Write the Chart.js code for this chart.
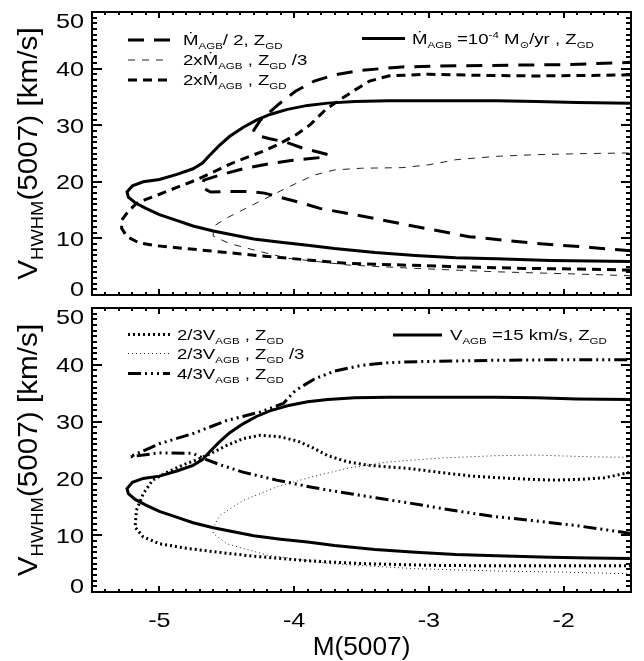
<!DOCTYPE html>
<html>
<head>
<meta charset="utf-8">
<script src="https://cdn.jsdelivr.net/npm/chart.js@4.4.1/dist/chart.umd.min.js"></script>
<style>
  body { margin: 0; background: #fff; }
  #wrap { position: relative; width: 644px; height: 661px; }
  #wrap canvas { position: absolute; left: 0; }
</style>
</head>
<body>
<div id="wrap">
  <canvas id="topPanel" width="644" height="300" style="top:0"></canvas>
  <canvas id="bottomPanel" width="644" height="361" style="top:300px"></canvas>
</div>
<script>
// axis ranges and tick labels
const X_MIN = -5.5, X_MAX = -1.5, Y_MIN = 0, Y_MAX = 50;
const xTickValues = [-5, -4, -3, -2];
const xTickLabels = ['-5', '-4', '-3', '-2'];
const yTickValues = [0, 10, 20, 30, 40, 50];
const yTickLabels = ['0', '10', '20', '30', '40', '50'];

// reference model (Mdot_AGB = 1e-4, V_AGB = 15 km/s, Z_GD) - shown in both panels
const refX = [-1.5, -1.8, -2.1, -2.5, -2.8, -3.1, -3.4, -3.7, -3.9, -4.1, -4.3, -4.45, -4.6, -4.75, -4.9, -5.0, -5.1, -5.18, -5.23, -5.24,
              -5.2, -5.12, -5.0, -4.87, -4.75, -4.68, -4.63, -4.56, -4.48, -4.38, -4.28, -4.18, -4.05, -3.9, -3.75, -3.55, -3.3, -3.0, -2.5, -2.2, -1.9, -1.5];
const refY = [5.9, 6.0, 6.1, 6.4, 6.6, 7.0, 7.5, 8.2, 8.8, 9.3, 9.9, 10.6, 11.3, 12.2, 13.4, 14.2, 15.3, 16.3, 17.3, 18.2,
              19.3, 20.0, 20.4, 21.3, 22.3, 23.3, 24.6, 26.3, 28.0, 29.6, 30.9, 31.9, 32.8, 33.5, 33.9, 34.2, 34.3, 34.3, 34.3, 34.2, 34.0, 33.9];

// top panel: mass-loss variations
const mdotHalfX = [-1.5, -1.8, -2.2, -2.7, -3.1, -3.4, -3.6, -3.81, -3.95, -4.11, -4.22, -4.35, -4.5, -4.62, -4.69, -4.67, -4.55, -4.38, -4.18, -4.01,
                   -3.88, -3.76, -3.75, -3.83, -3.93, -4.06, -4.18, -4.28, -4.30, -4.25, -4.11, -3.99, -3.85, -3.7, -3.5, -3.2, -2.8, -2.4, -2.0, -1.5];
const mdotHalfY = [7.8, 8.4, 9.1, 10.3, 12.1, 13.5, 14.4, 15.3, 16.3, 17.3, 18.0, 18.3, 18.3, 18.2, 19.1, 20.3, 21.2, 22.3, 23.2, 23.8,
                   24.1, 24.4, 24.8, 25.3, 25.9, 27.0, 27.6, 28.2, 29.1, 30.9, 33.8, 36.0, 37.8, 38.9, 39.7, 40.3, 40.5, 40.6, 40.7, 41.1];

const mdot2LowZX = [-1.5, -1.9, -2.5, -3.1, -3.6, -4.05, -4.29, -4.48, -4.6, -4.6, -4.5, -4.3, -4.05, -3.85, -3.7, -3.5, -3.2, -3.0, -2.8, -2.5, -2.2, -1.8, -1.5];
const mdot2LowZY = [3.4, 3.7, 4.1, 4.7, 5.3, 6.5, 7.9, 9.1, 10.4, 12.1, 13.6, 16.0, 19.0, 21.2, 22.1, 22.4, 22.5, 23.0, 23.9, 24.5, 24.8, 25.0, 25.1];

const mdot2X = [-1.5, -1.9, -2.3, -2.8, -3.2, -3.6, -3.9, -4.2, -4.5, -4.8, -5.02, -5.15, -5.24, -5.28, -5.28, -5.23, -5.17, -5.1, -5.03, -4.87, -4.72,
                -4.55, -4.43, -4.23, -4.11, -3.98, -3.88, -3.76, -3.66, -3.55, -3.44, -3.3, -3.0, -2.6, -2.2, -1.8, -1.5];
const mdot2Y = [4.4, 4.6, 4.7, 5.0, 5.3, 5.6, 6.2, 6.8, 7.5, 8.2, 8.7, 9.2, 10.3, 11.8, 13.2, 14.8, 16.2, 16.9, 17.5, 19.0, 20.4,
                22.3, 23.6, 25.4, 26.7, 28.4, 30.1, 32.9, 34.5, 36.2, 37.8, 38.7, 39.0, 38.8, 38.7, 38.8, 38.9];

// bottom panel: wind-velocity variations
const v23X = [-1.5, -2.0, -2.5, -3.0, -3.5, -3.9, -4.3, -4.6, -4.8, -5.0, -5.12, -5.18, -5.17, -5.12, -5.05, -4.95, -4.82, -4.7, -4.6, -4.5, -4.38,
              -4.25, -4.1, -3.98, -3.87, -3.75, -3.6, -3.44, -3.13, -2.9, -2.68, -2.4, -2.1, -1.9, -1.7, -1.5];
const v23Y = [4.6, 4.6, 4.6, 4.7, 5.0, 5.5, 6.3, 7.1, 7.7, 8.5, 9.7, 11.4, 14.4, 17.3, 19.7, 21.0, 22.4, 23.5, 24.6, 25.8, 27.0,
              27.6, 27.3, 26.6, 25.5, 24.0, 22.9, 22.3, 21.7, 21.0, 20.4, 20.0, 19.7, 19.8, 20.1, 21.1];

const v23LowZX = [-1.5, -2.0, -2.5, -3.1, -3.74, -4.2, -4.38, -4.5, -4.6, -4.6, -4.55, -4.38, -4.13, -3.88, -3.6, -3.3, -2.9, -2.5, -2.2, -1.8, -1.5];
const v23LowZY = [3.2, 3.5, 3.7, 4.1, 5.0, 6.5, 7.7, 8.5, 10.3, 11.4, 13.5, 16.1, 18.5, 20.2, 21.8, 22.9, 23.6, 24.0, 24.1, 23.8, 23.7];

const v43X = [-1.5, -1.7, -1.91, -2.2, -2.52, -2.8, -3.13, -3.45, -3.74, -3.88, -4.13, -4.38, -4.55, -4.65, -4.75, -5.0, -5.22,
              -5.0, -4.75, -4.5, -4.25, -4.08, -3.99, -3.85, -3.7, -3.5, -3.29, -3.0, -2.5, -2.0, -1.5];
const v43Y = [10.3, 11.0, 11.7, 12.5, 13.3, 14.3, 15.6, 16.8, 17.9, 18.5, 19.7, 21.1, 22.4, 23.3, 24.4, 24.5, 23.8,
              26.1, 27.9, 30.2, 31.7, 33.2, 35.5, 37.5, 38.9, 39.9, 40.4, 40.6, 40.8, 40.9, 40.9];

const topLabels = ['Ṁ_{AGB}/ 2, Z_{GD}', '2xṀ_{AGB} , Z_{GD} /3', '2xṀ_{AGB} , Z_{GD}', 'Ṁ_{AGB} =10^{-4} M_{⊙}/yr , Z_{GD}'];
const bottomLabels = ['2/3V_{AGB} , Z_{GD}', '2/3V_{AGB} , Z_{GD} /3', '4/3V_{AGB} , Z_{GD}', 'V_{AGB} =15 km/s, Z_{GD}'];
const yTitle = 'V_{HWHM}(5007) [km/s]';
const xTitle = 'M(5007)';

const FONT = '"Liberation Sans", Arial, "DejaVu Sans", sans-serif';

function pts(xs, ys) {
  return xs.map((x, i) => ({ x: x, y: ys[i] }));
}

function line(label, xs, ys, width, dash, color) {
  return {
    label: label,
    data: pts(xs, ys),
    showLine: true,
    borderColor: color || '#000',
    borderWidth: width,
    borderDash: dash,
    pointRadius: 0,
    fill: false,
    tension: 0
  };
}

// "X_{sub}" / "X^{sup}" markup -> parts
function parseRich(str) {
  const parts = [];
  const re = /([_^])\{([^}]*)\}|[^_^]+/g;
  let m;
  while ((m = re.exec(str))) {
    if (m[1]) parts.push({ t: m[2], k: m[1] === '_' ? 'sub' : 'sup' });
    else parts.push({ t: m[0], k: '' });
  }
  return parts;
}

function richText(ctx, str, x, y, size, opt) {
  opt = opt || {};
  const parts = parseRich(str);
  const small = size * 0.62;
  ctx.save();
  ctx.translate(x, y);
  if (opt.rotate) ctx.rotate(opt.rotate);
  ctx.scale(opt.stretch || 1, 1);
  ctx.fillStyle = '#000';
  ctx.textAlign = 'left';
  ctx.textBaseline = 'alphabetic';
  const widths = parts.map(p => {
    ctx.font = (p.k ? small : size) + 'px ' + FONT;
    return ctx.measureText(p.t).width;
  });
  const total = widths.reduce((a, b) => a + b, 0);
  let cx = opt.align === 'center' ? -total / 2 : opt.align === 'right' ? -total : 0;
  parts.forEach((p, i) => {
    ctx.font = (p.k ? small : size) + 'px ' + FONT;
    const dy = p.k === 'sub' ? size * 0.24 : p.k === 'sup' ? -size * 0.4 : 0;
    ctx.fillText(p.t, cx, dy);
    cx += widths[i];
  });
  ctx.restore();
}

// IDL style box: inward ticks on all four sides, tick labels, titles, legend
const idlFrame = {
  id: 'idlFrame',
  afterDraw(chart) {
    const o = chart.options.plugins.idlFrame;
    const ctx = chart.ctx;
    const a = chart.chartArea;
    const xs = chart.scales.x, ys = chart.scales.y;
    ctx.save();
    ctx.fillStyle = '#000';

    // x: minor ticks every 0.1 mag, major every 1 mag
    for (let i = 0; i <= 40; i++) {
      const px = Math.round(xs.getPixelForValue(X_MIN + i / 10));
      const len = (i % 10 === 5) ? 6 : 3;
      ctx.fillRect(px - 1, a.bottom - len, 2, len);
      ctx.fillRect(px - 1, a.top, 2, len);
    }
    // y: minor ticks every 1 km/s, major every 10
    for (let i = 0; i <= 50; i++) {
      const py = Math.round(ys.getPixelForValue(Y_MIN + i));
      const len = i % 10 === 0 ? 10 : 5;
      ctx.fillRect(a.left, py - 1, len, 2);
      ctx.fillRect(a.right - len, py - 1, len, 2);
    }
    // box
    ctx.fillRect(a.left - 1, a.top - 1, a.right - a.left + 2, 2);
    ctx.fillRect(a.left - 1, a.bottom - 1, a.right - a.left + 2, 2);
    ctx.fillRect(a.left - 1, a.top - 1, 2, a.bottom - a.top + 2);
    ctx.fillRect(a.right - 1, a.top - 1, 2, a.bottom - a.top + 2);

    // y tick labels
    yTickValues.forEach((v, i) => {
      let py = ys.getPixelForValue(v) + 7.5;
      if (v === Y_MIN) py -= 7;
      if (v === Y_MAX) py += 8;
      richText(ctx, yTickLabels[i], a.left - 8, py, 21, { align: 'right', stretch: 1.2 });
    });
    // y title
    richText(ctx, yTitle, o.titleX, (a.top + a.bottom) / 2, 27,
      { align: 'center', rotate: -Math.PI / 2, stretch: 1.1 });

    if (o.showX) {
      xTickValues.forEach((v, i) => {
        richText(ctx, xTickLabels[i], xs.getPixelForValue(v), a.bottom + 34.5, 21,
          { align: 'center', stretch: 1.2 });
      });
      richText(ctx, xTitle, (a.left + a.right) / 2, a.bottom + 63, 25, { align: 'center', stretch: 1.05 });
    }

    // legend
    o.legend.forEach((row, i) => {
      const ds = chart.data.datasets[i];
      ctx.save();
      ctx.strokeStyle = ds.borderColor;
      ctx.lineWidth = ds.borderWidth;
      ctx.setLineDash(ds.borderDash || []);
      ctx.beginPath();
      ctx.moveTo(row.x0, row.y);
      ctx.lineTo(row.x1, row.y);
      ctx.stroke();
      ctx.restore();
      richText(ctx, o.labels[i], row.tx, row.y + 5.4, 15, { stretch: 1.24 });
    });
    ctx.restore();
  }
};

function makePanel(id, datasets, padding, extra) {
  return new Chart(document.getElementById(id), {
    type: 'scatter',
    data: { datasets: datasets },
    options: {
      responsive: false,
      animation: false,
      layout: { padding: padding },
      scales: {
        x: { type: 'linear', min: X_MIN, max: X_MAX, display: false },
        y: { type: 'linear', min: Y_MIN, max: Y_MAX, display: false }
      },
      plugins: {
        legend: { display: false },
        tooltip: { enabled: false },
        idlFrame: extra
      }
    },
    plugins: [idlFrame]
  });
}

const LONG_DASH = [16, 10], THIN_DASH = [7, 7], SHORT_DASH = [9, 6];
const DOTS = [2, 3], THIN_DOTS = [1, 3], DASH_3DOT = [13, 4, 2, 4, 2, 4, 2, 4];

makePanel('topPanel', [
  line(topLabels[0], mdotHalfX, mdotHalfY, 3, LONG_DASH),
  line(topLabels[1], mdot2LowZX, mdot2LowZY, 1, THIN_DASH, '#222'),
  line(topLabels[2], mdot2X, mdot2Y, 3, SHORT_DASH),
  line(topLabels[3], refX, refY, 3, [])
], { left: 92, right: 13, top: 12, bottom: 5 }, {
  titleX: 37,
  showX: false,
  labels: topLabels,
  legend: [
    { x0: 128, x1: 170, y: 40, tx: 183 },
    { x0: 128, x1: 170, y: 60, tx: 183 },
    { x0: 128, x1: 170, y: 80, tx: 183 },
    { x0: 362, x1: 405, y: 38.5, tx: 412 }
  ]
});

makePanel('bottomPanel', [
  line(bottomLabels[0], v23X, v23Y, 3, DOTS),
  line(bottomLabels[1], v23LowZX, v23LowZY, 1, THIN_DOTS, '#222'),
  line(bottomLabels[2], v43X, v43Y, 3, DASH_3DOT),
  line(bottomLabels[3], refX, refY, 3, [])
], { left: 92, right: 13, top: 8, bottom: 69 }, {
  titleX: 37,
  showX: true,
  labels: bottomLabels,
  legend: [
    { x0: 128, x1: 170, y: 34.5, tx: 177 },
    { x0: 128, x1: 170, y: 53.5, tx: 177 },
    { x0: 128, x1: 170, y: 73.5, tx: 177 },
    { x0: 393, x1: 442, y: 35, tx: 450 }
  ]
});
</script>
</body>
</html>
